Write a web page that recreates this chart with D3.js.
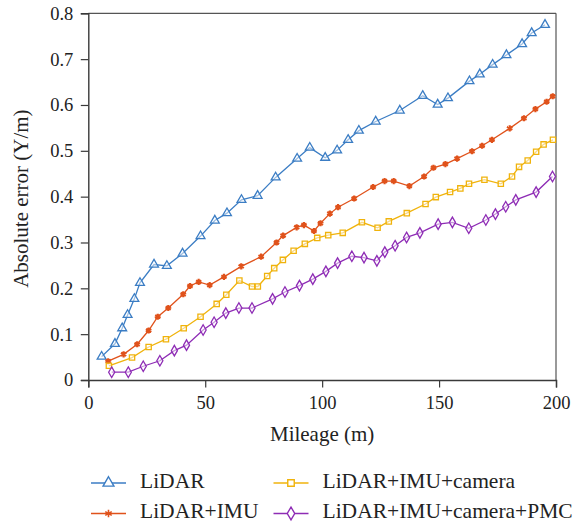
<!DOCTYPE html>
<html>
<head>
<meta charset="utf-8">
<script src="https://cdn.jsdelivr.net/npm/d3@7"></script>
<style>
  html, body { margin: 0; padding: 0; background: #fff; }
</style>
</head>
<body>
<svg id="chart" width="581" height="527"></svg>
<script>
// Mileage (m) and absolute error (Y/m) for each method
const lidarX = [5.7,11.4,14.5,16.8,19.7,22.1,28.1,33.6,40.3,48,54.1,59.3,65.5,72.4,80.1,89.3,94.7,101.3,106.4,111.1,115.7,122.9,133.2,143,149.4,153.8,163,167.4,172.9,178.8,185.5,189.6,195.3];
const lidarY = [0.051,0.079,0.113,0.142,0.177,0.212,0.252,0.249,0.276,0.314,0.348,0.364,0.393,0.402,0.442,0.483,0.507,0.485,0.501,0.524,0.544,0.564,0.588,0.620,0.601,0.615,0.652,0.667,0.688,0.709,0.733,0.757,0.775];

const imuX = [8.5,15.1,20.9,25.8,29.7,34.2,40.6,43.5,47.2,51.9,58,65.4,73.9,80.5,83.3,89.1,92.2,96.5,99.3,103.3,106.8,113.7,121.8,126.7,130.6,137.3,143.6,147.6,152.7,157.7,164.1,168.4,172.6,180.2,186.3,191.2,196,198.6];
const imuY = [0.041,0.056,0.078,0.108,0.138,0.157,0.187,0.205,0.214,0.207,0.225,0.248,0.269,0.300,0.315,0.333,0.338,0.325,0.342,0.363,0.377,0.396,0.421,0.434,0.434,0.423,0.444,0.463,0.471,0.483,0.499,0.511,0.524,0.549,0.571,0.591,0.607,0.619];

const camX = [8.8,18.7,25.8,33.2,40.8,48,54.9,59,64.6,70,72.5,76.5,79.5,83.2,87.8,92.6,97.9,102.6,108.8,117,123.7,128.5,136.2,144.2,148.6,154.7,159.1,162.8,169.4,176.4,181.2,184.2,187.9,191.5,194.7,198.7];
const camY = [0.031,0.049,0.072,0.089,0.113,0.138,0.166,0.186,0.217,0.204,0.204,0.227,0.244,0.262,0.282,0.297,0.310,0.316,0.321,0.344,0.332,0.346,0.364,0.384,0.399,0.410,0.418,0.428,0.437,0.428,0.444,0.465,0.479,0.498,0.514,0.524];

const pmcX = [10,17.1,23.5,30.6,36.8,42,49.1,53.8,58.8,64.4,70,78.8,84.1,90.3,96,101.6,106.6,112.7,117.9,123.4,126.8,131.2,136.1,141.8,149.6,155.7,162.7,170,174.1,178.5,182.8,191.5,198.5];
const pmcY = [0.017,0.017,0.030,0.042,0.064,0.076,0.109,0.126,0.146,0.157,0.157,0.177,0.192,0.206,0.220,0.237,0.255,0.270,0.267,0.260,0.279,0.293,0.311,0.321,0.340,0.344,0.331,0.349,0.362,0.378,0.393,0.410,0.444];

const seriesNames = ["LiDAR", "LiDAR+IMU", "LiDAR+IMU+camera", "LiDAR+IMU+camera+PMC"];
const xTicks = [0, 50, 100, 150, 200];
const yTicks = [0, 0.1, 0.2, 0.3, 0.4, 0.5, 0.6, 0.7, 0.8];

const FONT = "'Liberation Serif', 'Times New Roman', 'DejaVu Serif', serif";

const series = [
  { name: seriesNames[0], xs: lidarX, ys: lidarY, color: "#3b7dc4", symbol: d3.symbolTriangle, size: 34 },
  { name: seriesNames[1], xs: imuX,   ys: imuY,   color: "#e0521b", symbol: d3.symbolAsterisk, size: 26 },
  { name: seriesNames[2], xs: camX,   ys: camY,   color: "#f0b30c", symbol: d3.symbolSquare, size: 28 },
  { name: seriesNames[3], xs: pmcX,   ys: pmcY,   color: "#8e2cb5", symbol: d3.symbolDiamond, size: 32 }
];

const svg = d3.select("#chart");
const margin = { left: 88.3, right: 25, top: 13.3, bottom: 147 };
const W = 581, H = 527;

const x = d3.scaleLinear().domain([0, 200]).range([margin.left, W - margin.right]);
const y = d3.scaleLinear().domain([0, 0.8]).range([H - margin.bottom, margin.top]);

const axisColor = "#3a3a3a";

// Frame: top and right border lines
svg.append("line")
  .attr("x1", x(0)).attr("x2", x(200)).attr("y1", y(0.8)).attr("y2", y(0.8))
  .attr("stroke", "#555").attr("stroke-width", 1.2);
svg.append("line")
  .attr("x1", x(200)).attr("x2", x(200)).attr("y1", y(0.8)).attr("y2", y(0))
  .attr("stroke", "#555").attr("stroke-width", 1.2);

// Axes
const xAxis = svg.append("g")
  .attr("transform", `translate(0,${y(0)})`)
  .call(d3.axisBottom(x).tickValues(xTicks).tickSize(7.5).tickPadding(8).tickFormat(d3.format("d")));
const yAxis = svg.append("g")
  .attr("transform", `translate(${x(0)},0)`)
  .call(d3.axisLeft(y).tickValues(yTicks).tickSize(7.5).tickPadding(7.5).tickFormat(d => d === 0 ? "0" : d3.format(".1f")(d)));

[xAxis, yAxis].forEach(g => {
  g.attr("font-family", FONT);
  g.select(".domain").attr("stroke", axisColor).attr("stroke-width", 1.4);
  g.selectAll(".tick line").attr("stroke", axisColor).attr("stroke-width", 1.2);
  g.selectAll(".tick text").attr("font-size", 18.5).attr("fill", "#222").attr("font-family", FONT);
});

// Axis titles
svg.append("text")
  .attr("x", (x(0) + x(200)) / 2).attr("y", 441)
  .attr("text-anchor", "middle").attr("font-size", 21).attr("font-family", FONT).attr("fill", "#222")
  .text("Mileage (m)");
svg.append("text")
  .attr("transform", `translate(28,${(y(0) + y(0.8)) / 2 + 2}) rotate(-90)`)
  .attr("text-anchor", "middle").attr("font-size", 21).attr("font-family", FONT).attr("fill", "#222")
  .text("Absolute error (Y/m)");

// Lines and markers
const line = d3.line().x(d => x(d[0])).y(d => y(d[1]));

series.forEach(s => {
  const pts = s.xs.map((v, i) => [v, s.ys[i]]);
  const star = s.symbol === d3.symbolAsterisk;
  svg.append("path")
    .datum(pts)
    .attr("d", line)
    .attr("fill", "none")
    .attr("stroke", s.color)
    .attr("stroke-width", 1.3);
  svg.append("g").selectAll("path")
    .data(pts)
    .join("path")
    .attr("transform", d => `translate(${x(d[0])},${y(d[1])})`)
    .attr("d", d3.symbol().type(s.symbol).size(s.size))
    .attr("fill", star ? s.color : "#fff")
    .attr("fill-opacity", star ? 1 : 0.5)
    .attr("stroke", s.color)
    .attr("stroke-width", star ? 2.2 : 1.3);
});

// Legend (two columns, two rows)
const legendPos = [
  { lx: 91, ly: 483 },
  { lx: 91, ly: 513.5 },
  { lx: 273.5, ly: 483 },
  { lx: 273.5, ly: 513.5 }
];
series.forEach((s, i) => {
  const p = legendPos[i];
  const star = s.symbol === d3.symbolAsterisk;
  const g = svg.append("g").attr("transform", `translate(${p.lx},${p.ly})`);
  g.append("line").attr("x1", 0).attr("x2", 35).attr("y1", 0).attr("y2", 0)
    .attr("stroke", s.color).attr("stroke-width", 1.4);
  g.append("path")
    .attr("transform", "translate(17.5,0)")
    .attr("d", d3.symbol().type(s.symbol).size(s.size * 1.5))
    .attr("fill", star ? s.color : "#fff")
    .attr("stroke", s.color)
    .attr("stroke-width", star ? 1.6 : 1.4);
  g.append("text")
    .attr("x", 49).attr("y", 4.5)
    .attr("font-size", 21.5).attr("font-family", FONT).attr("fill", "#222")
    .text(s.name);
});
</script>
</body>
</html>
